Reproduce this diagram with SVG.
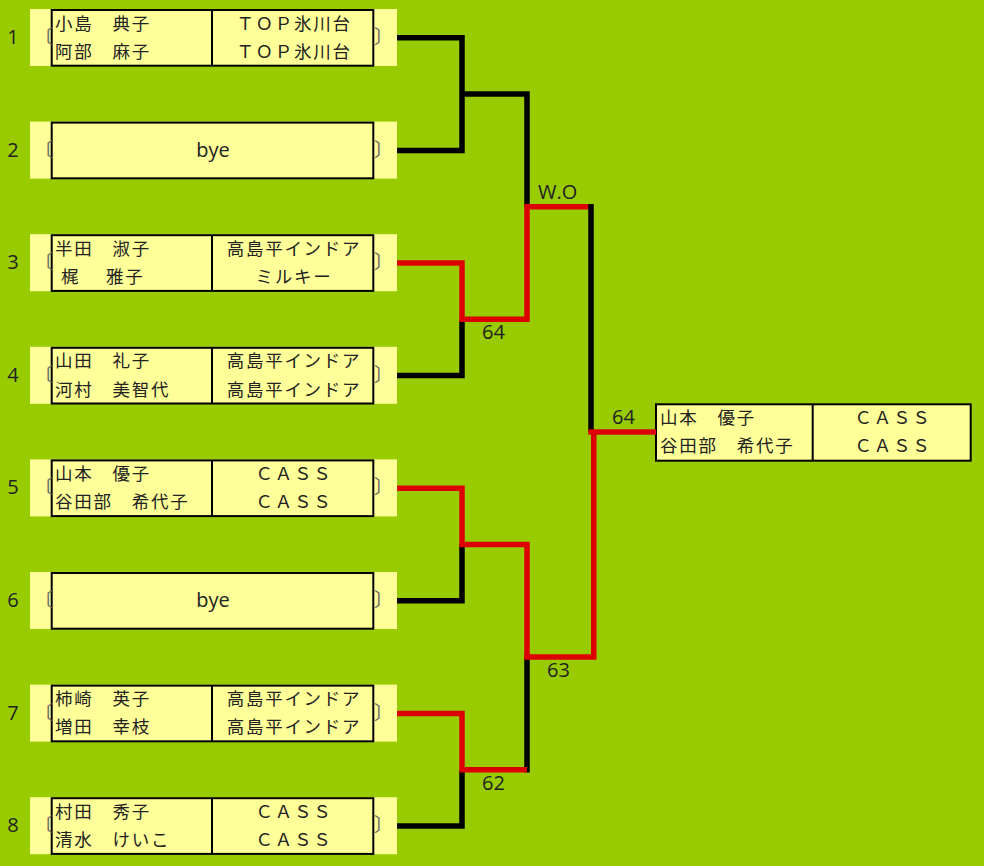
<svg xmlns="http://www.w3.org/2000/svg" width="984" height="866" viewBox="0 0 984 866">
<style>
.bg{fill:#FFFF99}
.box{fill:#FFFF99;stroke:#000;stroke-width:2}
.dv{stroke:#000;stroke-width:2}
.num{font-family:"Open Sans","Noto Sans",sans-serif;font-size:20px;fill:#222;text-anchor:middle}
.lat{font-family:"Open Sans","Noto Sans",sans-serif;font-size:20px;fill:#222;text-anchor:middle}
.nm{font-family:"Noto Sans CJK JP",sans-serif;font-size:17.5px;letter-spacing:1.7px;fill:#222}
.cl{font-family:"Noto Sans CJK JP",sans-serif;font-size:17.5px;letter-spacing:1.7px;fill:#222;text-anchor:middle}
.brl{font-family:"Noto Sans CJK JP",sans-serif;font-size:19px;fill:#666;text-anchor:end}
.brr{font-family:"Noto Sans CJK JP",sans-serif;font-size:19px;fill:#666}
.k{stroke:#000;stroke-width:5.5;fill:none}
.r{stroke:#DD0000;stroke-width:5.5;fill:none}
.sc{font-family:"Open Sans","Noto Sans",sans-serif;font-size:20px;fill:#222}
</style>
<rect x="0" y="0" width="984" height="866" fill="#99CC00"/>

<g id="entry1" transform="translate(0,9)">
<rect class="bg" x="30" y="0" width="367" height="57"/>
<rect class="box" x="51.7" y="1" width="321.6" height="55.7"/>
<line class="dv" x1="212" y1="1" x2="212" y2="56.7"/>
<text class="num" x="13" y="35">1</text>
<text class="brl" x="53" y="35">〔</text><text class="brr" x="374" y="35">〕</text>
<text class="nm" x="55" y="20.5">小島　典子</text>
<text class="nm" x="55" y="48.8">阿部　麻子</text>
<text class="cl" x="294" y="20.5">ＴＯＰ氷川台</text>
<text class="cl" x="294" y="48.8">ＴＯＰ氷川台</text>
</g>

<g id="entry2" transform="translate(0,121.6)">
<rect class="bg" x="30" y="0" width="367" height="57"/>
<rect class="box" x="51.7" y="1" width="321.6" height="55.7"/>
<text class="num" x="13" y="35">2</text>
<text class="brl" x="53" y="35">〔</text><text class="brr" x="374" y="35">〕</text>
<text class="lat" x="213" y="35">bye</text>
</g>

<g id="entry3" transform="translate(0,234.2)">
<rect class="bg" x="30" y="0" width="367" height="57"/>
<rect class="box" x="51.7" y="1" width="321.6" height="55.7"/>
<line class="dv" x1="212" y1="1" x2="212" y2="56.7"/>
<text class="num" x="13" y="35">3</text>
<text class="brl" x="53" y="35">〔</text><text class="brr" x="374" y="35">〕</text>
<text class="nm" x="55" y="20.5">半田　淑子</text>
<text class="nm" y="48.8"><tspan x="61">梶</tspan><tspan x="106">雅子</tspan></text>
<text class="cl" x="294" y="20.5">高島平インドア</text>
<text class="cl" x="294" y="48.8">ミルキー</text>
</g>

<g id="entry4" transform="translate(0,346.8)">
<rect class="bg" x="30" y="0" width="367" height="57"/>
<rect class="box" x="51.7" y="1" width="321.6" height="55.7"/>
<line class="dv" x1="212" y1="1" x2="212" y2="56.7"/>
<text class="num" x="13" y="35">4</text>
<text class="brl" x="53" y="35">〔</text><text class="brr" x="374" y="35">〕</text>
<text class="nm" x="55" y="20.5">山田　礼子</text>
<text class="nm" x="55" y="48.8">河村　美智代</text>
<text class="cl" x="294" y="20.5">高島平インドア</text>
<text class="cl" x="294" y="48.8">高島平インドア</text>
</g>

<g id="entry5" transform="translate(0,459.4)">
<rect class="bg" x="30" y="0" width="367" height="57"/>
<rect class="box" x="51.7" y="1" width="321.6" height="55.7"/>
<line class="dv" x1="212" y1="1" x2="212" y2="56.7"/>
<text class="num" x="13" y="35">5</text>
<text class="brl" x="53" y="35">〔</text><text class="brr" x="374" y="35">〕</text>
<text class="nm" x="55" y="20.5">山本　優子</text>
<text class="nm" x="55" y="48.8">谷田部　希代子</text>
<text class="cl" x="294" y="20.5">ＣＡＳＳ</text>
<text class="cl" x="294" y="48.8">ＣＡＳＳ</text>
</g>

<g id="entry6" transform="translate(0,572)">
<rect class="bg" x="30" y="0" width="367" height="57"/>
<rect class="box" x="51.7" y="1" width="321.6" height="55.7"/>
<text class="num" x="13" y="35">6</text>
<text class="brl" x="53" y="35">〔</text><text class="brr" x="374" y="35">〕</text>
<text class="lat" x="213" y="35">bye</text>
</g>

<g id="entry7" transform="translate(0,684.6)">
<rect class="bg" x="30" y="0" width="367" height="57"/>
<rect class="box" x="51.7" y="1" width="321.6" height="55.7"/>
<line class="dv" x1="212" y1="1" x2="212" y2="56.7"/>
<text class="num" x="13" y="35">7</text>
<text class="brl" x="53" y="35">〔</text><text class="brr" x="374" y="35">〕</text>
<text class="nm" x="55" y="20.5">柿崎　英子</text>
<text class="nm" x="55" y="48.8">増田　幸枝</text>
<text class="cl" x="294" y="20.5">高島平インドア</text>
<text class="cl" x="294" y="48.8">高島平インドア</text>
</g>

<g id="entry8" transform="translate(0,797.2)">
<rect class="bg" x="30" y="0" width="367" height="57"/>
<rect class="box" x="51.7" y="1" width="321.6" height="55.7"/>
<line class="dv" x1="212" y1="1" x2="212" y2="56.7"/>
<text class="num" x="13" y="35">8</text>
<text class="brl" x="53" y="35">〔</text><text class="brr" x="374" y="35">〕</text>
<text class="nm" x="55" y="20.5">村田　秀子</text>
<text class="nm" x="55" y="48.8">清水　けいこ</text>
<text class="cl" x="294" y="20.5">ＣＡＳＳ</text>
<text class="cl" x="294" y="48.8">ＣＡＳＳ</text>
</g>

<g id="winner">
<rect class="box" x="656" y="404.3" width="314.7" height="56.4"/>
<line class="dv" x1="812.7" y1="404.3" x2="812.7" y2="460.7"/>
<text class="nm" x="660" y="423.8">山本　優子</text>
<text class="nm" x="660" y="452.1">谷田部　希代子</text>
<text class="cl" x="893" y="423.8">ＣＡＳＳ</text>
<text class="cl" x="893" y="452.1">ＣＡＳＳ</text>
</g>

<g id="connectors">
<path class="k" d="M397,37.8 H464.75 M462,35.05 V153.15 M397,150.4 H464.75 M462,94.1 H529.75 M527,91.35 V206.7"/>
<path class="k" d="M397,375.6 H464.75 M462,319.3 V378.35"/>
<path class="r" d="M397,263 H464.75 M462,260.25 V319.3 M459.25,319.3 H529.75 M527,322.05 V206.7 M524.25,206.7 H591"/>
<path class="k" d="M397,600.8 H464.75 M462,544.5 V603.55"/>
<path class="r" d="M397,488.2 H464.75 M462,485.45 V544.5 M459.25,544.5 H529.75 M527,541.75 V657.1"/>
<path class="k" d="M397,826 H464.75 M462,769.7 V828.75 M527,657.1 V772.45"/>
<path class="r" d="M397,713.4 H464.75 M462,710.65 V769.7 M459.25,769.7 H527"/>
<path class="k" d="M591,203.95 V431.9"/>
<path class="r" d="M524.25,657.1 H593.75 V431.9 M588.25,431.9 H656"/>
</g>

<g id="scores">
<text class="sc" x="538" y="199">W.O</text>
<text class="sc" x="482" y="339">64</text>
<text class="sc" x="612" y="424">64</text>
<text class="sc" x="547" y="677">63</text>
<text class="sc" x="482" y="790">62</text>
</g>
</svg>
